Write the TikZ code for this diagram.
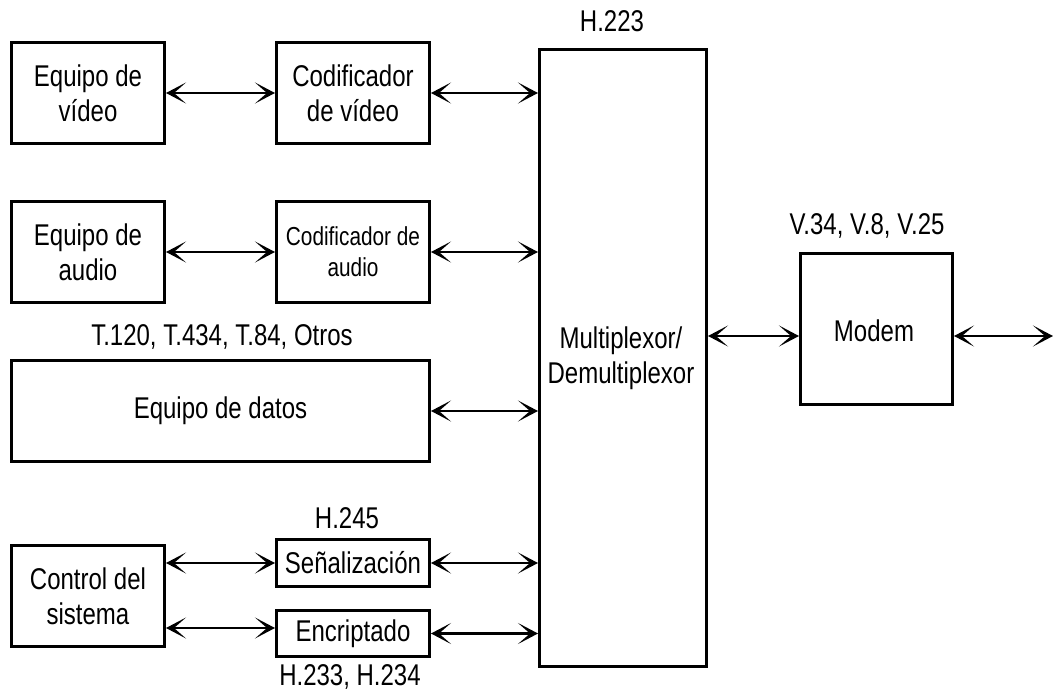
\documentclass[tikz,border=0pt]{standalone}
\usepackage{fontspec}
\setmainfont{Liberation Sans}[FakeStretch=0.8]
\usetikzlibrary{arrows.meta}
\tikzset{
  box/.style={draw, line width=3pt, inner sep=0pt, align=center,
    font=\fontsize{30}{35}\selectfont},
  lbl/.style={inner sep=0pt, align=center, font=\fontsize{30}{35}\selectfont},
  tipstyle/.tip={Stealth[length=20pt,width=21pt,inset=12pt]},
  conn/.style={line width=2.2pt, tipstyle-tipstyle},
}
\begin{document}
\begin{tikzpicture}[x=1pt,y=-1pt]
\useasboundingbox (0,0) rectangle (1053,693);
% boxes
\node[box, minimum width=153pt, minimum height=100pt] (eqv) at (88,93) {Equipo de\\vídeo};
\node[box, minimum width=153pt, minimum height=100pt] (codv) at (353,93) {Codificador\\de vídeo};
\node[box, minimum width=153pt, minimum height=101pt] (eqa) at (88,252) {Equipo de\\audio};
\node[box, minimum width=153pt, minimum height=101pt, font=\fontsize{26}{31}\selectfont] (coda) at (353,252) {Codificador de\\audio};
\node[box, minimum width=418pt, minimum height=101pt] (datos) at (220.5,411) {Equipo de datos};
\node[box, minimum width=153pt, minimum height=101pt] (ctrl) at (88,596) {Control del\\sistema};
\node[box, minimum width=153pt, minimum height=47pt] (sen) at (353,563) {Señalización};
\node[box, minimum width=153pt, minimum height=46pt] (enc) at (353,633.5) {Encriptado};
\node[box, minimum width=167pt, minimum height=617pt] (mux) at (623,358) {};
\node[lbl] (muxt) at (621,358) {Multiplexor/\\Demultiplexor};
\node[box, minimum width=152pt, minimum height=151pt] (modem) at (876.5,329) {};
\node[lbl] (modemt) at (874,331) {Modem};
% labels
\node[lbl] (h223) at (612,21) {H.223};
\node[lbl] (v34) at (867,226) {V.34, V.8, V.25};
\node[lbl] (t120) at (222,337) {T.120, T.434, T.84, Otros};
\node[lbl] (h245) at (347,518) {H.245};
\node[lbl] (h233) at (350,677) {H.233, H.234};
\coordinate (lineend) at (1053,336);
% connectors
\draw[conn] (eqv.east) -- (codv.west);
\draw[conn] (codv.east) -- (codv.east -| mux.west);
\draw[conn] (eqa.east) -- (coda.west);
\draw[conn] (coda.east) -- (coda.east -| mux.west);
\draw[conn] (datos.east) -- (datos.east -| mux.west);
\draw[conn] (sen.west -| ctrl.east) -- (sen.west);
\draw[conn] ([yshift=5.5pt]enc.west -| ctrl.east) -- ([yshift=5.5pt]enc.west);
\draw[conn] (sen.east) -- (sen.east -| mux.west);
\draw[conn] (enc.east) -- (enc.east -| mux.west);
\draw[conn] ([yshift=-7pt]mux.east |- modem.west) -- ([yshift=-7pt]modem.west);
\draw[conn] ([yshift=-7pt]modem.east) -- (lineend);
\end{tikzpicture}
\end{document}
